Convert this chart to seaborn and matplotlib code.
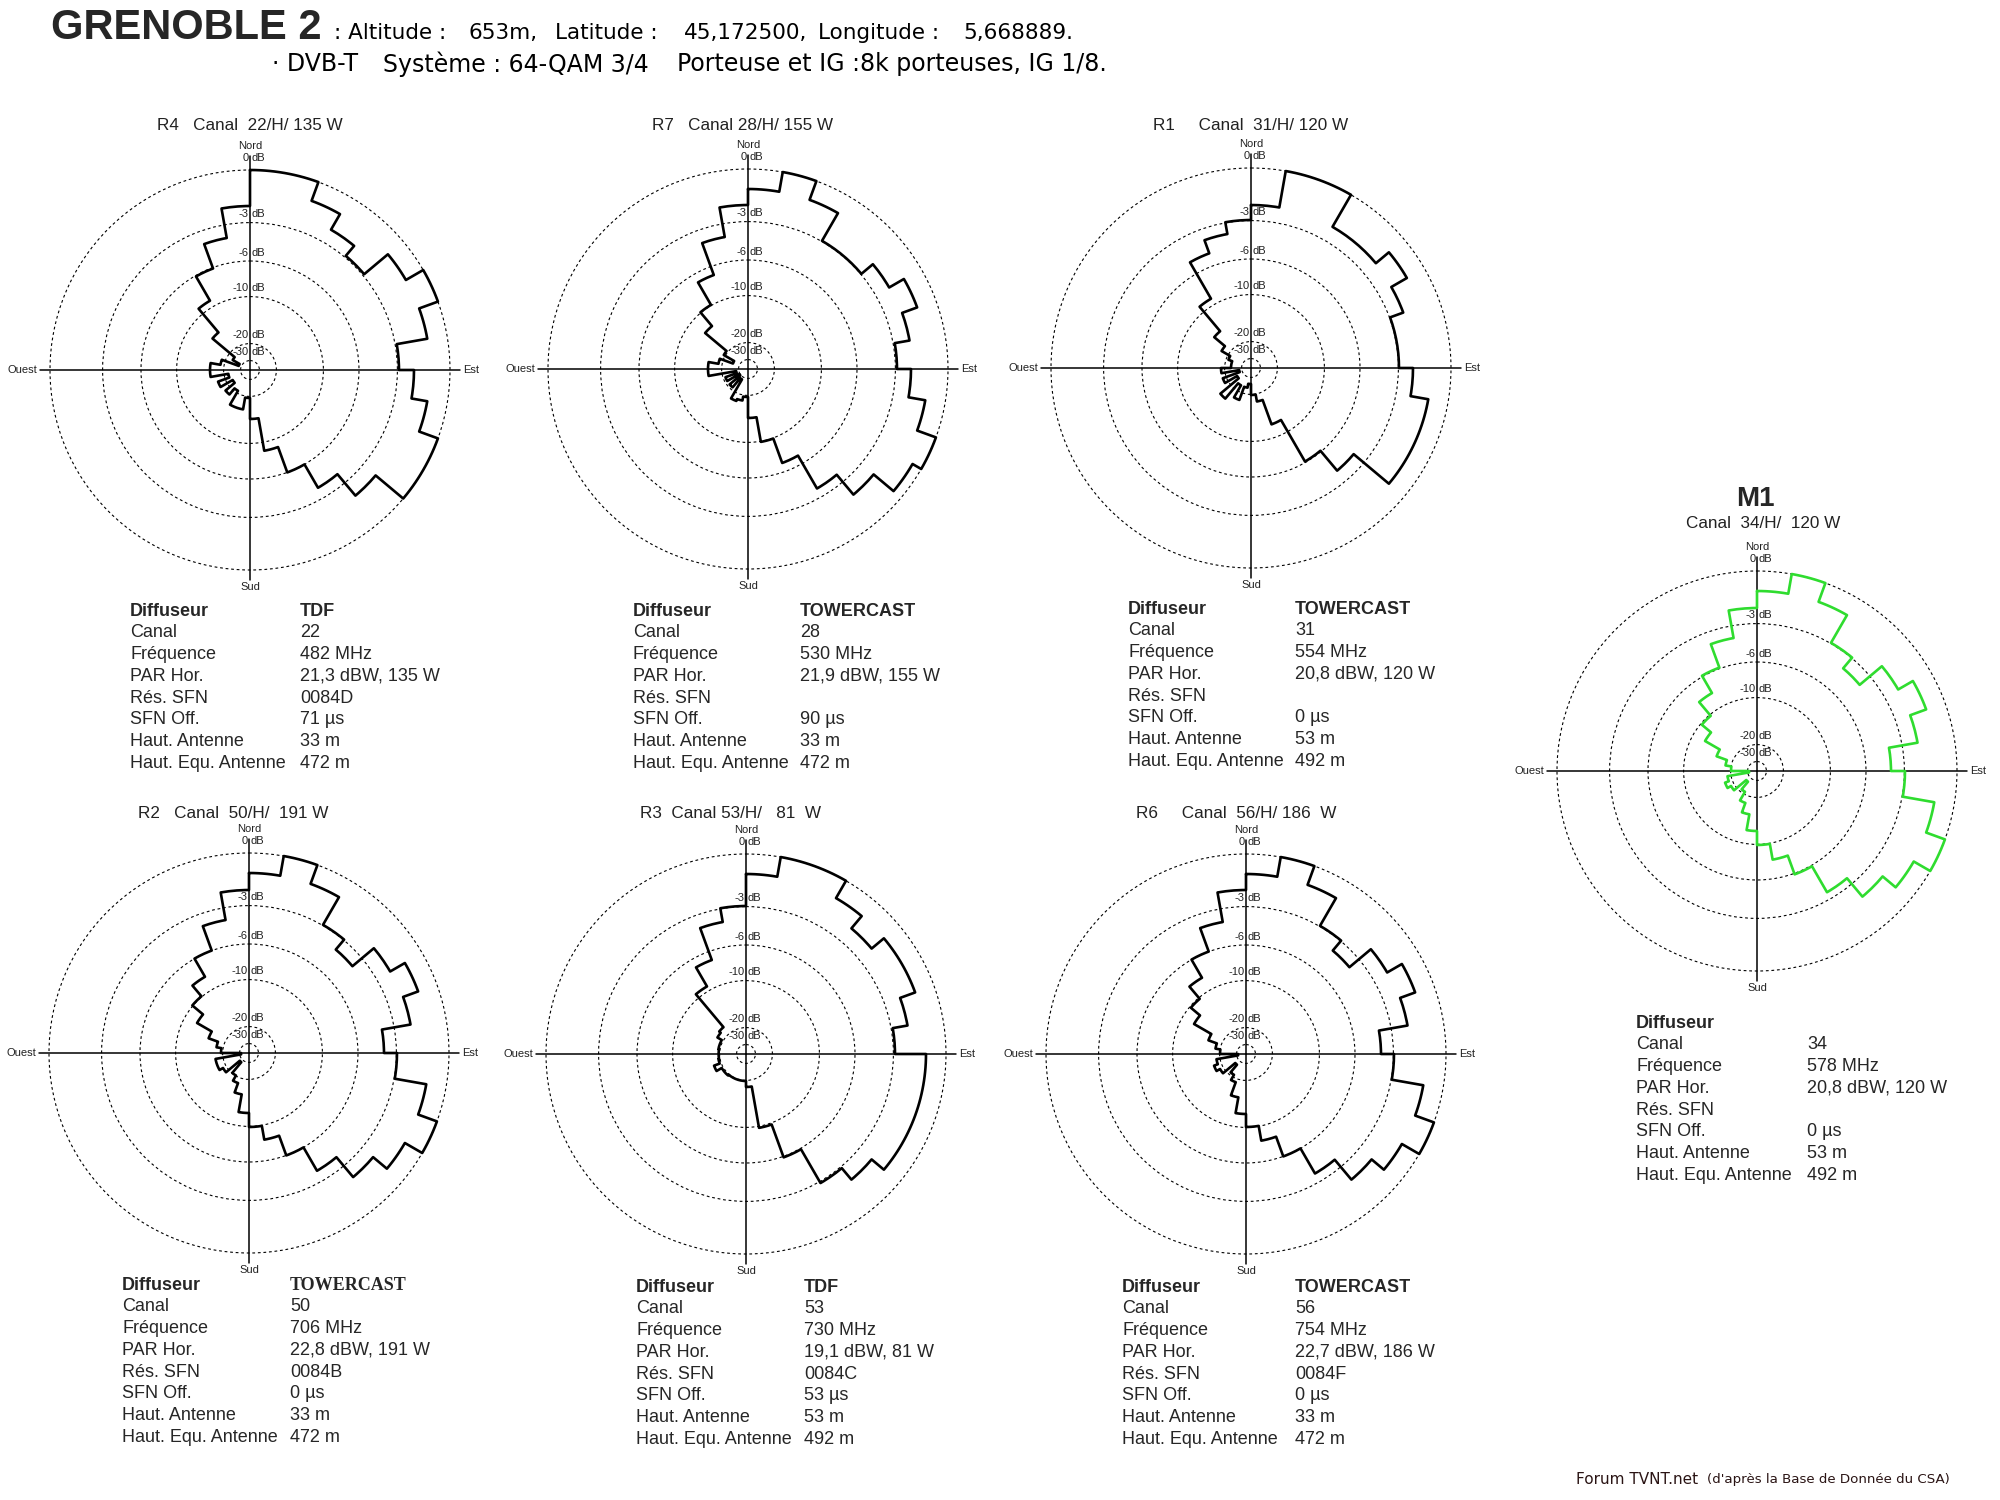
import numpy as np
import matplotlib
matplotlib.use("Agg")
import matplotlib.pyplot as plt
import seaborn as sns

# ---------------- data ----------------
sector_start_deg = list(range(0, 360, 10))
ring_db_labels = ["0", "-3", "-6", "-10", "-20", "-30"]
ring_levels = [1.0, 0.737, 0.545, 0.367, 0.132, 0.047]   # relative field level of each dB ring

r4_pattern = [1.0, 1.0, 0.90, 0.81, 0.745, 0.90, 1.0, 0.90, 0.745, 0.82, 0.90, 1.0,
              1.0, 0.82, 0.68, 0.545, 0.41, 0.245, 0.14, 0.20, 0.20, 0.12, 0.16, 0.10,
              0.17, 0.11, 0.20, 0.20, 0.15, 0.06, 0.10, 0.245, 0.40, 0.54, 0.67, 0.82]
r7_pattern = [0.90, 1.0, 0.90, 0.74, 0.74, 0.815, 0.90, 0.82, 0.745, 0.815, 0.90, 1.0,
              0.95, 0.82, 0.69, 0.50, 0.37, 0.245, 0.14, 0.16, 0.17, 0.06, 0.12, 0.05,
              0.12, 0.06, 0.20, 0.20, 0.15, 0.08, 0.14, 0.28, 0.37, 0.50, 0.67, 0.82]
r1_pattern = [0.815, 1.0, 1.0, 0.815, 0.815, 0.90, 0.81, 0.74, 0.74, 0.81, 0.90, 0.90,
              0.90, 0.67, 0.54, 0.30, 0.17, 0.135, 0.08, 0.10, 0.17, 0.10, 0.20, 0.08,
              0.15, 0.06, 0.15, 0.10, 0.10, 0.12, 0.17, 0.24, 0.40, 0.61, 0.68, 0.74]
r2_pattern = [0.90, 1.0, 0.90, 0.74, 0.675, 0.815, 0.90, 0.82, 0.675, 0.74, 0.90, 1.0,
              0.90, 0.81, 0.68, 0.545, 0.44, 0.37, 0.30, 0.21, 0.16, 0.13, 0.06, 0.15,
              0.17, 0.17, 0.04, 0.14, 0.165, 0.215, 0.30, 0.37, 0.44, 0.545, 0.675, 0.815]
r3_pattern = [0.90, 1.0, 1.0, 0.90, 0.82, 0.90, 0.90, 0.82, 0.745, 0.90, 0.90, 0.90,
              0.90, 0.82, 0.745, 0.55, 0.375, 0.165, 0.135, 0.135, 0.135, 0.135, 0.14, 0.14,
              0.17, 0.14, 0.137, 0.137, 0.14, 0.14, 0.165, 0.175, 0.39, 0.50, 0.67, 0.74]
r6_pattern = [0.90, 1.0, 0.90, 0.74, 0.675, 0.815, 0.90, 0.82, 0.675, 0.74, 0.90, 1.0,
              0.90, 0.82, 0.69, 0.545, 0.44, 0.365, 0.30, 0.22, 0.15, 0.12, 0.07, 0.15,
              0.17, 0.15, 0.04, 0.13, 0.155, 0.20, 0.30, 0.36, 0.44, 0.545, 0.67, 0.82]
m1_pattern = [0.90, 1.0, 0.90, 0.74, 0.67, 0.815, 0.90, 0.815, 0.67, 0.74, 0.90, 1.0,
              0.905, 0.82, 0.70, 0.55, 0.45, 0.37, 0.30, 0.22, 0.17, 0.12, 0.07, 0.15,
              0.17, 0.15, 0.04, 0.13, 0.16, 0.215, 0.30, 0.36, 0.45, 0.55, 0.675, 0.815]

chart_titles = ["R4   Canal  22/H/ 135 W", "R7   Canal 28/H/ 155 W", "R1     Canal  31/H/ 120 W",
                "R2   Canal  50/H/  191 W", "R3  Canal 53/H/   81  W", "R6     Canal  56/H/ 186  W"]
m1_title = "M1"
m1_subtitle = "Canal  34/H/  120 W"

info_labels = ["Diffuseur", "Canal", "Fréquence", "PAR Hor.", "Rés. SFN", "SFN Off.",
               "Haut. Antenne", "Haut. Equ. Antenne"]
r4_info = ["TDF", "22", "482 MHz", "21,3 dBW, 135 W", "0084D", "71 µs", "33 m", "472 m"]
r7_info = ["TOWERCAST", "28", "530 MHz", "21,9 dBW, 155 W", "", "90 µs", "33 m", "472 m"]
r1_info = ["TOWERCAST", "31", "554 MHz", "20,8 dBW, 120 W", "", "0 µs", "53 m", "492 m"]
r2_info = ["TOWERCAST", "50", "706 MHz", "22,8 dBW, 191 W", "0084B", "0 µs", "33 m", "472 m"]
r3_info = ["TDF", "53", "730 MHz", "19,1 dBW, 81 W", "0084C", "53 µs", "53 m", "492 m"]
r6_info = ["TOWERCAST", "56", "754 MHz", "22,7 dBW, 186 W", "0084F", "0 µs", "33 m", "472 m"]
m1_info = ["", "34", "578 MHz", "20,8 dBW, 120 W", "", "0 µs", "53 m", "492 m"]

header_title = "GRENOBLE 2"
header_line1 = [": Altitude :", "653m,", "Latitude :", "45,172500,", "Longitude :", "5,668889."]
header_line2 = ["· DVB-T", "Système : 64-QAM 3/4", "Porteuse et IG :8k porteuses, IG 1/8."]
footer_main = "Forum TVNT.net"
footer_note = "(d'après la Base de Donnée du CSA)"

# ---------------- style ----------------
sns.set_theme(style="white")
plt.rcParams["font.family"] = ["Liberation Sans", "DejaVu Sans"]

W, H = 2000, 1500
fig = plt.figure(figsize=(20, 15), dpi=100)
fig.patch.set_facecolor("white")


def fx(x):
    return x / W


def fy(y):
    return 1 - y / H


R_PX = 200      # radius of 0 dB ring in pixels
RMAX = 1.09


def draw_pattern(cx, cy, levels, color):
    half = R_PX * RMAX
    ax = fig.add_axes([fx(cx - half), fy(cy + half), 2 * half / W, 2 * half / H],
                      projection="polar")
    ax.set_theta_zero_location("N")
    ax.set_theta_direction(-1)
    ax.set_facecolor("none")
    ax.spines["polar"].set_visible(False)

    # pattern outline (10-degree sectors, drawn as arcs + radial steps)
    th, rr = [], []
    for start, v in zip(sector_start_deg, levels):
        a = np.linspace(start, start + 10, 8)
        th.extend(a)
        rr.extend([v] * len(a))
    th.append(360.0)
    rr.append(levels[0])
    sns.lineplot(x=np.deg2rad(th), y=np.array(rr), sort=False, estimator=None,
                 color=color, lw=1.9, ax=ax, zorder=4)

    # compass axes
    for ang, rlen in [(0, 1.07), (90, 1.05), (180, 1.05), (270, 1.05)]:
        ax.plot([np.deg2rad(ang)] * 2, [0, rlen], color="black", lw=1.1, zorder=3)

    ax.set_ylim(0, RMAX)
    ax.set_xticks([])
    ax.set_yticks(ring_levels)
    ax.set_yticklabels([])
    ax.xaxis.grid(False)
    ax.yaxis.grid(True, color="black", lw=0.8, linestyle=(0, (2.5, 2.5)))
    ax.set_xlabel("")
    ax.set_ylabel("")

    fs = 8
    for lab, lvl in zip(ring_db_labels, ring_levels):
        dyo = 2.5 if lab != "0" else 5
        ax.annotate(lab, xy=(0, lvl), xytext=(-1.2, dyo), textcoords="offset points",
                    ha="right", va="bottom", fontsize=fs, color="#222222")
        ax.annotate("dB", xy=(0, lvl), xytext=(1.2, dyo), textcoords="offset points",
                    ha="left", va="bottom", fontsize=fs, color="#222222")
    ax.text(0, 1.12, "Nord", ha="center", va="center", fontsize=fs, color="#222222")
    ax.text(np.pi, 1.085, "Sud", ha="center", va="center", fontsize=fs, color="#222222")
    ax.text(np.deg2rad(270), 1.065, "Ouest", ha="right", va="center", fontsize=fs, color="#222222")
    ax.text(np.deg2rad(90), 1.065, "Est", ha="left", va="center", fontsize=fs, color="#222222")
    return ax


def info_block(x_lab, x_val, y0, values, serif_value=False, dy=21.8):
    for k, (lab, val) in enumerate(zip(info_labels, values)):
        y = y0 + k * dy
        fw = "bold" if k == 0 else "normal"
        fig.text(fx(x_lab), fy(y), lab, fontsize=13, fontweight=fw, ha="left", va="center")
        if val:
            kw = {}
            if k == 0 and serif_value:
                kw["family"] = ["Liberation Serif", "DejaVu Serif"]
            fig.text(fx(x_val), fy(y), val, fontsize=13, fontweight=fw, ha="left",
                     va="center", **kw)


# ---------------- header ----------------
fig.text(fx(51), fy(28), header_title, fontsize=30, fontweight="bold", ha="left", va="center")
for txt, x in zip(header_line1, [334, 469, 555, 684, 818, 963]):
    fig.text(fx(x), fy(33), txt, fontsize=15.5, ha="left", va="center",
             family=["DejaVu Sans"], color="black")
for txt, x in zip(header_line2, [272, 383, 677]):
    fig.text(fx(x), fy(64), txt, fontsize=17, ha="left", va="center",
             family=["DejaVu Sans"], color="black")

# ---------------- charts ----------------
patterns = [r4_pattern, r7_pattern, r1_pattern, r2_pattern, r3_pattern, r6_pattern]
infos = [r4_info, r7_info, r1_info, r2_info, r3_info, r6_info]
centers = [(250, 370), (748, 369), (1251, 368), (249, 1053), (746, 1054), (1246, 1054)]
title_pos = [(250, 126), (742, 125), (1251, 125), (233, 813), (730, 813), (1236, 813)]
info_pos = [(130, 300, 611), (633, 800, 611), (1128, 1295, 609),
            (122, 290, 1285), (636, 804, 1287), (1122, 1295, 1287)]

for i in range(6):
    draw_pattern(centers[i][0], centers[i][1], patterns[i], "black")
    fig.text(fx(title_pos[i][0]), fy(title_pos[i][1]), chart_titles[i], fontsize=12.3,
             ha="center", va="center", color="#222222")
    xl, xv, y0 = info_pos[i]
    info_block(xl, xv, y0, infos[i], serif_value=(i == 3))

# M1 (highlighted multiplex)
draw_pattern(1757, 771, m1_pattern, "#2fdc2f")
fig.text(fx(1755), fy(499), m1_title, fontsize=20, fontweight="bold", ha="center", va="center")
fig.text(fx(1763), fy(523), m1_subtitle, fontsize=12.3, ha="center", va="center",
         color="#222222")
info_block(1636, 1807, 1023, m1_info)

# ---------------- footer ----------------
fig.text(fx(1576), fy(1479), footer_main, fontsize=11, ha="left", va="center",
         color="#2a1414", family=["DejaVu Sans"])
fig.text(fx(1707), fy(1480), footer_note, fontsize=9.6, ha="left", va="center",
         color="#2a1414", family=["DejaVu Sans"])

fig.savefig("out.png", dpi=100, facecolor="white")
